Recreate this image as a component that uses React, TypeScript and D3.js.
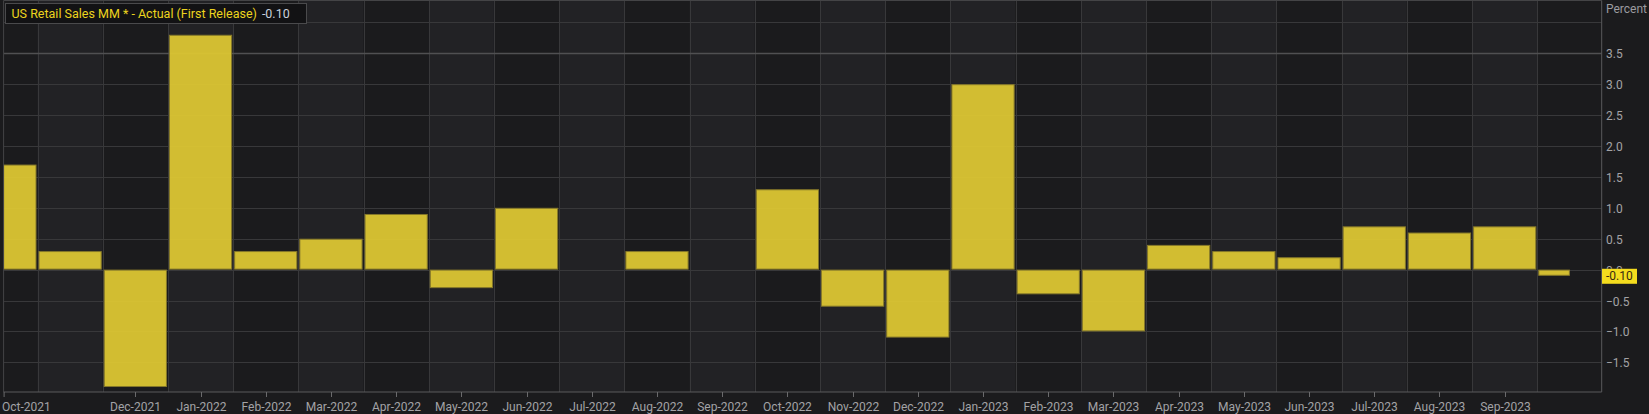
import React from 'react';
import * as d3 from 'd3';

const MONTHS = [
  'Oct-2021', 'Nov-2021', 'Dec-2021', 'Jan-2022', 'Feb-2022', 'Mar-2022', 'Apr-2022',
  'May-2022', 'Jun-2022', 'Jul-2022', 'Aug-2022', 'Sep-2022', 'Oct-2022', 'Nov-2022',
  'Dec-2022', 'Jan-2023', 'Feb-2023', 'Mar-2023', 'Apr-2023', 'May-2023', 'Jun-2023',
  'Jul-2023', 'Aug-2023', 'Sep-2023', 'Oct-2023',
];

const RETAIL_MM = [
  1.7, 0.3, -1.9, 3.8, 0.3, 0.5, 0.9, -0.3, 1.0, 0.0, 0.3, 0.0, 1.3, -0.6,
  -1.1, 3.0, -0.4, -1.0, 0.4, 0.3, 0.2, 0.7, 0.6, 0.7, -0.1,
];

const X_TICK_LABELS = [
  'Oct-2021', 'Dec-2021', 'Jan-2022', 'Feb-2022', 'Mar-2022', 'Apr-2022', 'May-2022',
  'Jun-2022', 'Jul-2022', 'Aug-2022', 'Sep-2022', 'Oct-2022', 'Nov-2022', 'Dec-2022',
  'Jan-2023', 'Feb-2023', 'Mar-2023', 'Apr-2023', 'May-2023', 'Jun-2023', 'Jul-2023',
  'Aug-2023', 'Sep-2023',
];

const Y_TICKS = [-1.5, -1.0, -0.5, 0.0, 0.5, 1.0, 1.5, 2.0, 2.5, 3.0, 3.5];
const Y_GRID = [-1.5, -1.0, -0.5, 0.0, 0.5, 1.0, 1.5, 2.0, 2.5, 3.0, 3.5, 4.0];

const TITLE = 'US Retail Sales MM * - Actual (First Release)';
const LAST_VALUE = '-0.10';

const W = 1649;
const H = 414;
const plot = { left: 3.6, right: 1601.7, top: 0.5, bottom: 392 };
const FONT = 'Roboto, "Liberation Sans", sans-serif';

export default function App() {
  const x = d3.scaleBand<string>().domain(MONTHS).range([-27.7, 1602.5]).padding(0);
  const y = d3.scaleLinear().domain([-1.5, 3.5]).range([362.3, 53.3]);
  const bw = x.bandwidth();
  const last = MONTHS.length - 1;
  const boxY = y(RETAIL_MM[last]);

  return (
    <div style={{ position: 'absolute', left: 0, top: 0 }}>
      <svg width={W} height={H} style={{ display: 'block', background: '#1b1b1d' }}>
        <defs>
          <clipPath id="plotClip">
            <rect x={plot.left} y={plot.top} width={plot.right - plot.left} height={plot.bottom - plot.top} />
          </clipPath>
          <clipPath id="zeroLabelClip">
            <rect x={1602} y={0} width={47} height={boxY - 7} />
          </clipPath>
        </defs>

        <g clipPath="url(#plotClip)">
          {/* alternating month columns */}
          {MONTHS.map((m, i) => (
            <rect key={m} x={x(m)} y={plot.top} width={bw} height={plot.bottom - plot.top}
              fill={i % 2 === 1 ? '#222225' : '#1b1b1d'} />
          ))}
          {/* vertical grid */}
          {MONTHS.slice(1).map((m) => (
            <line key={m} x1={Math.round(x(m)!) + 0.5} x2={Math.round(x(m)!) + 0.5}
              y1={plot.top} y2={plot.bottom} stroke="#38383a" />
          ))}
          {/* horizontal grid */}
          {Y_GRID.map((v) => (
            <line key={v} x1={plot.left} x2={plot.right}
              y1={Math.round(y(v)) + 0.5} y2={Math.round(y(v)) + 0.5}
              stroke={v === 3.5 ? '#505052' : '#38383a'} strokeWidth={v === 3.5 ? 1.5 : 1} />
          ))}
          {/* bars */}
          {MONTHS.map((m, i) => {
            const v = RETAIL_MM[i];
            if (v === 0) return null;
            const x0 = x(m)! + 1;
            const w = i === last ? (bw - 2) / 2 : bw - 2;
            const y0 = Math.min(y(v), y(0));
            const h = Math.abs(y(v) - y(0));
            return (
              <rect key={m} x={x0 + 0.5} y={y0 + 0.5} width={w - 1} height={Math.max(h - 1, 1)}
                fill="#dcc633" fillOpacity={0.95} stroke="#85782a" strokeWidth={1} />
            );
          })}
        </g>

        {/* plot frame */}
        <line x1={plot.left} x2={plot.right} y1={plot.top} y2={plot.top} stroke="#444446" />
        <line x1={plot.left} x2={plot.left} y1={plot.top} y2={plot.bottom} stroke="#444446" />
        <line x1={plot.right} x2={plot.right} y1={plot.top} y2={plot.bottom} stroke="#5a5a5c" />
        <line x1={plot.left} x2={plot.right} y1={plot.bottom} y2={plot.bottom} stroke="#5a5a5c" />

        {/* x axis */}
        {X_TICK_LABELS.map((m) => {
          const first = m === MONTHS[0];
          const cx = first ? plot.left + 0.5 : Math.round(x(m)! + bw / 2) + 0.5;
          return (
            <g key={m}>
              <line x1={cx} x2={cx} y1={plot.bottom} y2={plot.bottom + 5} stroke="#6a6a6c" />
              <text x={first ? 2 : cx} y={410.5} fontFamily={FONT} fontSize={12}
                fill="#a3a3a6" textAnchor={first ? 'start' : 'middle'}>{m}</text>
            </g>
          );
        })}

        {/* y axis */}
        <text x={1606} y={12.7} fontFamily={FONT} fontSize={12} fill="#9c9ca0">Percent</text>
        {Y_TICKS.map((v) => (
          <text key={v} x={1606} y={y(v) + 5} fontFamily={FONT} fontSize={12} fill="#a3a3a6"
            clipPath={v === 0 ? 'url(#zeroLabelClip)' : undefined}>
            {d3.format('.1f')(v)}
          </text>
        ))}

        {/* last value marker */}
        <rect x={1602} y={boxY - 7} width={35} height={15} fill="#f4dc1e" />
        <text x={1606} y={boxY + 4.5} fontFamily={FONT} fontSize={12} fill="#3a2a10">
          {LAST_VALUE}
        </text>

        {/* title box */}
        <rect x={5.5} y={3.5} width={301} height={20} fill="#121214" stroke="#4a4a4c" />
        <text x={11.5} y={17.8} fontFamily={FONT} fontSize={12.5} fill="#ecd41e">
          {TITLE}
          <tspan dx={5} fill="#c9d0dc">{LAST_VALUE}</tspan>
        </text>
      </svg>
    </div>
  );
}
